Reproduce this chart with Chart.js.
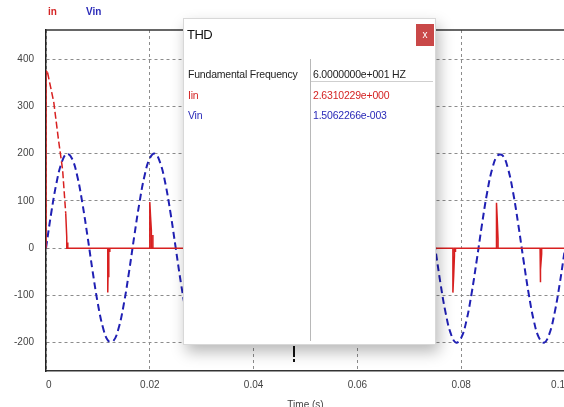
<!DOCTYPE html>
<html>
<head>
<meta charset="utf-8">
<script src="https://cdn.jsdelivr.net/npm/chart.js@4/dist/chart.umd.min.js"></script>
<style>
  html, body { margin: 0; padding: 0; background: #fff; overflow: hidden; width: 564px; height: 407px; }
  #wrap { position: absolute; left: 0; top: 0; width: 600px; height: 420px; }
  .leg { position: absolute; top: 6px; font: bold 10px "Liberation Sans", Arial, sans-serif; }
  #dlg { position: absolute; left: 183px; top: 18px; width: 251px; height: 325px; background: #fff;
         border: 1px solid #d8d8d8; box-shadow: 3px 7px 14px rgba(0,0,0,0.28); font-family: "Liberation Sans", Arial, sans-serif; }
  #dlg .ttl { position: absolute; left: 3px; top: 8px; font-size: 13px; color: #111; letter-spacing: -0.5px; }
  #dlg .cls { position: absolute; left: 232px; top: 5px; width: 18px; height: 22px; background: #c94848; color: #fff;
              font-size: 10px; text-align: center; line-height: 21px; }
  #dlg .sep { position: absolute; left: 126px; top: 40px; width: 1px; height: 282px; background: #b8b8b8; }
  #dlg .hl { position: absolute; left: 127px; top: 62px; width: 122px; height: 1px; background: #cfcfcf; }
  #dlg .c { position: absolute; font-size: 10.5px; white-space: nowrap; letter-spacing: -0.2px; }
  #cur1 { position: absolute; left: 293px; top: 346px; width: 2px; height: 11px; background: #111; }
  #cur2 { position: absolute; left: 293px; top: 359px; width: 2px; height: 3px; background: #111; }
</style>
</head>
<body>
<div id="wrap"><canvas id="c"></canvas></div>
<div class="leg" id="leg0" style="left:48px;color:#d42424"></div>
<div class="leg" id="leg1" style="left:86px;color:#2a2ab8"></div>
<div id="cur1"></div><div id="cur2"></div>
<div id="dlg">
  <div class="ttl">THD</div>
  <div class="cls">x</div>
  <div class="sep"></div>
  <div class="hl"></div>
  <div class="c" id="r0a" style="left:4px;top:49px;color:#222"></div>
  <div class="c" id="r0b" style="left:129px;top:49px;color:#222"></div>
  <div class="c" id="r1a" style="left:4px;top:70px;color:#d42424"></div>
  <div class="c" id="r1b" style="left:129px;top:70px;color:#d42424"></div>
  <div class="c" id="r2a" style="left:4px;top:90px;color:#2a2ab8"></div>
  <div class="c" id="r2b" style="left:129px;top:90px;color:#2a2ab8"></div>
</div>
<script>
// ---- data ----
const seriesNames = ["in", "Vin"];
const thdLabels = ["Fundamental Frequency", "Iin", "Vin"];
const thdValues = ["6.0000000e+001 HZ", "2.6310229e+000", "1.5062266e-003"];

const xTicks = [0, 0.02, 0.04, 0.06, 0.08, 0.1];
const xTickLabels = ["0", "0.02", "0.04", "0.06", "0.08", "0.1"];
const yTicks = [-200, -100, 0, 100, 200, 300, 400];
const yTickLabels = ["-200", "-100", "0", "100", "200", "300", "400"];

// Vin (blue) sampled every 1 ms
const vinT = [0,0.001,0.002,0.003,0.004,0.005,0.006,0.007,0.008,0.009,0.010,0.011,0.012,0.013,0.014,0.015,0.016,0.017,0.018,0.019,0.020,
  0.021,0.022,0.023,0.024,0.025,0.026,0.027,0.028,0.029,0.030,0.031,0.032,0.033,0.034,0.035,0.036,0.037,0.038,0.039,0.040,
  0.041,0.042,0.043,0.044,0.045,0.046,0.047,0.048,0.049,0.050,0.051,0.052,0.053,0.054,0.055,0.056,0.057,0.058,0.059,0.060,
  0.061,0.062,0.063,0.064,0.065,0.066,0.067,0.068,0.069,0.070,0.071,0.072,0.073,0.074,0.075,0.076,0.077,0.078,0.079,0.080,
  0.081,0.082,0.083,0.084,0.085,0.086,0.087,0.088,0.089,0.090,0.091,0.092,0.093,0.094,0.095,0.096,0.097,0.098,0.099,0.100];
const vinV = [0,74,137,181,200,190,154,96,25,-50,-118,-169,-196,-196,-169,-118,-50,25,96,154,190,
  200,181,137,74,0,-74,-137,-181,-200,-190,-154,-96,-25,50,118,169,196,196,169,118,
  50,-25,-96,-154,-190,-200,-181,-137,-74,0,74,137,181,200,190,154,96,25,-50,-118,
  -169,-196,-196,-169,-118,-50,25,96,154,190,200,181,137,74,0,-74,-137,-181,-200,-190,
  -154,-96,-25,50,118,169,196,196,169,118,50,-25,-96,-154,-190,-200,-181,-137,-74,0];

// Iin (red)
const iinT = [0,0,0.0003,0.0015,0.0024,0.0032,0.0038,0.0040,0.0040,0.0042,0.0042,0.0042,
  0.0119,0.0119,0.01195,0.0121,0.0121,0.0123,0.0123,0.0123,
  0.0200,0.0200,0.02015,0.0203,0.0203,0.0206,0.0206,0.0206,
  0.0285,0.0285,0.02865,0.0288,0.0288,
  0.0369,0.0369,0.03705,0.0372,0.0372,
  0.0452,0.0452,0.04535,0.0455,0.0455,
  0.0535,0.0535,0.05365,0.0538,0.0538,
  0.0619,0.0619,0.06205,0.0622,0.0622,
  0.0702,0.0702,0.07035,0.0705,0.0705,
  0.0784,0.0784,0.07855,0.0787,0.0787,0.0789,0.0789,0.0789,
  0.0868,0.0868,0.08695,0.0871,0.0871,
  0.0952,0.0952,0.09535,0.0955,0.0955,
  0.1];
const iinV = [0,375,372,309,230,166,74,23,0,0,12,0,
  0,-94,-60,-14,0,0,-8,0,
  0,98,66,38,0,0,28,0,
  0,-94,-60,-14,0,
  0,96,64,30,0,
  0,-94,-60,-14,0,
  0,96,64,30,0,
  0,-94,-60,-14,0,
  0,96,64,30,0,
  0,-94,-58,-16,0,0,-8,0,
  0,96,60,20,0,
  0,-72,-45,-12,0,
  0];

// ---- text ----
document.getElementById('leg0').textContent = seriesNames[0];
document.getElementById('leg1').textContent = seriesNames[1];
['r0','r1','r2'].forEach((id, i) => {
  document.getElementById(id + 'a').textContent = thdLabels[i];
  document.getElementById(id + 'b').textContent = thdValues[i];
});

const toXY = (ts, vs) => ts.map((t, i) => ({x: t, y: vs[i]}));

const frame = {
  id: 'frame',
  beforeDatasetsDraw(chart) {
    const {ctx, chartArea: a} = chart;
    ctx.save();
    ctx.strokeStyle = '#333';
    ctx.lineWidth = 1.5;
    ctx.beginPath();
    ctx.moveTo(a.left, a.top);
    ctx.lineTo(a.right + 40, a.top);
    ctx.stroke();
    ctx.restore();
  }
};

const tickFont = {family: '"Liberation Sans", Arial, sans-serif', size: 10};

new Chart(document.getElementById('c'), {
  type: 'line',
  data: {
    datasets: [
      {
        label: seriesNames[0],
        data: toXY(iinT, iinV),
        borderColor: '#d82020',
        borderWidth: 1.5,
        pointRadius: 0,
        tension: 0,
        segment: {
          borderDash: c => (Math.abs(c.p1.x - c.p0.x) > 3 && Math.abs(c.p1.y - c.p0.y) > 3) ? [7, 3] : undefined
        }
      },
      {
        label: seriesNames[1],
        data: toXY(vinT, vinV),
        borderColor: '#2020b4',
        borderWidth: 2,
        borderDash: [7, 4],
        pointRadius: 0,
        tension: 0.4
      }
    ]
  },
  plugins: [frame],
  options: {
    responsive: true,
    maintainAspectRatio: false,
    animation: false,
    layout: {padding: {top: 30, right: 35, left: 0, bottom: 0}},
    plugins: {legend: {display: false}, tooltip: {enabled: false}},
    scales: {
      x: {
        type: 'linear', min: 0, max: 0.1,
        afterBuildTicks: s => { s.ticks = xTicks.map(v => ({value: v})); },
        afterFit: s => { s.height = 49; },
        ticks: {
          autoSkip: false, maxRotation: 0, padding: 8, color: '#444', font: tickFont, align: 'inner',
          callback: (v, i) => xTickLabels[i]
        },
        grid: {color: '#8c8c8c', lineWidth: 1, drawTicks: false},
        border: {display: true, color: '#333', width: 1.5, dash: [3, 3]},
        title: {display: true, text: 'Time (s)', color: '#444', font: tickFont, padding: {top: 0, bottom: 9}}
      },
      y: {
        type: 'linear', min: -260, max: 462,
        afterBuildTicks: s => { s.ticks = yTicks.map(v => ({value: v})); },
        afterFit: s => { s.width = 46; },
        ticks: {
          padding: 12, color: '#444', font: tickFont,
          callback: (v, i) => yTickLabels[i]
        },
        grid: {color: '#8c8c8c', lineWidth: 1, drawTicks: false},
        border: {display: true, color: '#222', width: 1.5, dash: [3, 3]}
      }
    }
  }
});
</script>
</body>
</html>
